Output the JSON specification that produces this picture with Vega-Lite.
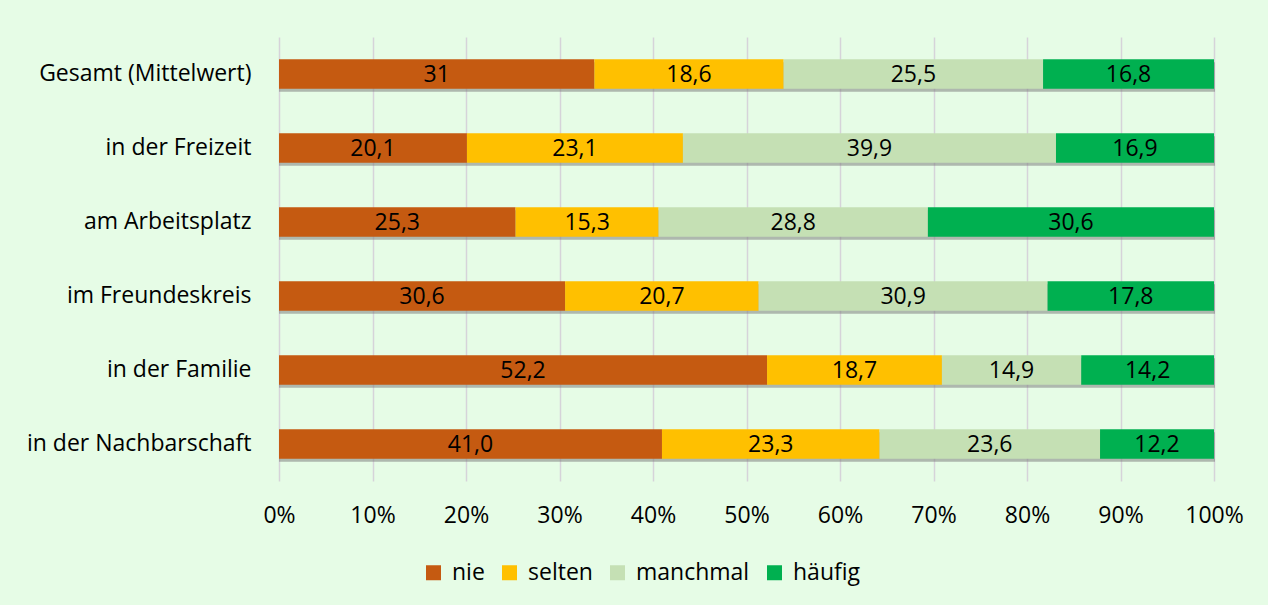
{
  "$schema": "https://vega.github.io/schema/vega-lite/v6.json",
  "width": 935,
  "height": 444,
  "autosize": {"type": "none"},
  "padding": {"left": 279, "top": 37, "right": 54, "bottom": 124},
  "background": "#E6FCE6",
  "config": {
    "font": "Open Sans",
    "view": {"stroke": null},
    "axis": {"labelFont": "Open Sans", "labelColor": "#000000", "labelFontSize": 23}
  },
  "data": {
    "values": [
      {"cat": "Gesamt (Mittelwert)", "level": "nie", "order": 1, "value": 31, "label": "31"},
      {"cat": "Gesamt (Mittelwert)", "level": "selten", "order": 2, "value": 18.6, "label": "18,6"},
      {"cat": "Gesamt (Mittelwert)", "level": "manchmal", "order": 3, "value": 25.5, "label": "25,5"},
      {"cat": "Gesamt (Mittelwert)", "level": "häufig", "order": 4, "value": 16.8, "label": "16,8"},
      {"cat": "in der Freizeit", "level": "nie", "order": 1, "value": 20.1, "label": "20,1"},
      {"cat": "in der Freizeit", "level": "selten", "order": 2, "value": 23.1, "label": "23,1"},
      {"cat": "in der Freizeit", "level": "manchmal", "order": 3, "value": 39.9, "label": "39,9"},
      {"cat": "in der Freizeit", "level": "häufig", "order": 4, "value": 16.9, "label": "16,9"},
      {"cat": "am Arbeitsplatz", "level": "nie", "order": 1, "value": 25.3, "label": "25,3"},
      {"cat": "am Arbeitsplatz", "level": "selten", "order": 2, "value": 15.3, "label": "15,3"},
      {"cat": "am Arbeitsplatz", "level": "manchmal", "order": 3, "value": 28.8, "label": "28,8"},
      {"cat": "am Arbeitsplatz", "level": "häufig", "order": 4, "value": 30.6, "label": "30,6"},
      {"cat": "im Freundeskreis", "level": "nie", "order": 1, "value": 30.6, "label": "30,6"},
      {"cat": "im Freundeskreis", "level": "selten", "order": 2, "value": 20.7, "label": "20,7"},
      {"cat": "im Freundeskreis", "level": "manchmal", "order": 3, "value": 30.9, "label": "30,9"},
      {"cat": "im Freundeskreis", "level": "häufig", "order": 4, "value": 17.8, "label": "17,8"},
      {"cat": "in der Familie", "level": "nie", "order": 1, "value": 52.2, "label": "52,2"},
      {"cat": "in der Familie", "level": "selten", "order": 2, "value": 18.7, "label": "18,7"},
      {"cat": "in der Familie", "level": "manchmal", "order": 3, "value": 14.9, "label": "14,9"},
      {"cat": "in der Familie", "level": "häufig", "order": 4, "value": 14.2, "label": "14,2"},
      {"cat": "in der Nachbarschaft", "level": "nie", "order": 1, "value": 41.0, "label": "41,0"},
      {"cat": "in der Nachbarschaft", "level": "selten", "order": 2, "value": 23.3, "label": "23,3"},
      {"cat": "in der Nachbarschaft", "level": "manchmal", "order": 3, "value": 23.6, "label": "23,6"},
      {"cat": "in der Nachbarschaft", "level": "häufig", "order": 4, "value": 12.2, "label": "12,2"}
    ]
  },
  "transform": [
    {"stack": "value", "groupby": ["cat"], "sort": [{"field": "order", "order": "ascending"}], "offset": "normalize", "as": ["x0", "x1"]},
    {"calculate": "(datum.x0 + datum.x1) / 2", "as": "xm"}
  ],
  "encoding": {
    "y": {
      "field": "cat",
      "type": "nominal",
      "sort": ["Gesamt (Mittelwert)", "in der Freizeit", "am Arbeitsplatz", "im Freundeskreis", "in der Familie", "in der Nachbarschaft"],
      "scale": {"paddingInner": 0.6, "paddingOuter": 0.3},
      "axis": {"title": null, "domain": false, "ticks": false, "labelPadding": 28, "labelLimit": 300}
    }
  },
  "layer": [
    {
      "mark": {"type": "bar", "color": "#7F7F7F", "opacity": 0.55, "yOffset": 3, "x2Offset": 1},
      "transform": [{"filter": "datum.order == 1"}],
      "encoding": {
        "x": {"datum": 0, "type": "quantitative", "scale": {"domain": [0, 1]}},
        "x2": {"datum": 1}
      }
    },
    {
      "mark": {"type": "bar"},
      "encoding": {
        "x": {
          "field": "x0",
          "type": "quantitative",
          "scale": {"domain": [0, 1]},
          "axis": {
            "title": null, "format": ".0%", "values": [0, 0.1, 0.2, 0.3, 0.4, 0.5, 0.6, 0.7, 0.8, 0.9, 1],
            "labelOverlap": false, "labelFlush": false, "labelBound": false,
            "domain": false, "ticks": false, "labelPadding": 23,
            "grid": true, "gridColor": "#D6D3D9", "gridWidth": 1.5
          }
        },
        "x2": {"field": "x1"},
        "color": {
          "field": "level",
          "type": "nominal",
          "sort": ["nie", "selten", "manchmal", "häufig"],
          "scale": {"domain": ["nie", "selten", "manchmal", "häufig"], "range": ["#C55A11", "#FFC000", "#C5E0B4", "#00B050"]},
          "legend": {
            "title": null, "orient": "none", "direction": "horizontal",
            "legendX": 143, "legendY": 524,
            "symbolType": "square", "symbolSize": 225, "symbolStrokeWidth": 0,
            "labelFontSize": 23, "labelFont": "Open Sans", "labelColor": "#000000",
            "columnPadding": 13, "labelOffset": 7
          }
        }
      }
    },
    {
      "mark": {"type": "text", "fontSize": 23, "color": "#000000", "baseline": "middle", "align": "center", "dy": 1},
      "encoding": {
        "x": {"field": "xm", "type": "quantitative"},
        "text": {"field": "label"}
      }
    }
  ]
}
